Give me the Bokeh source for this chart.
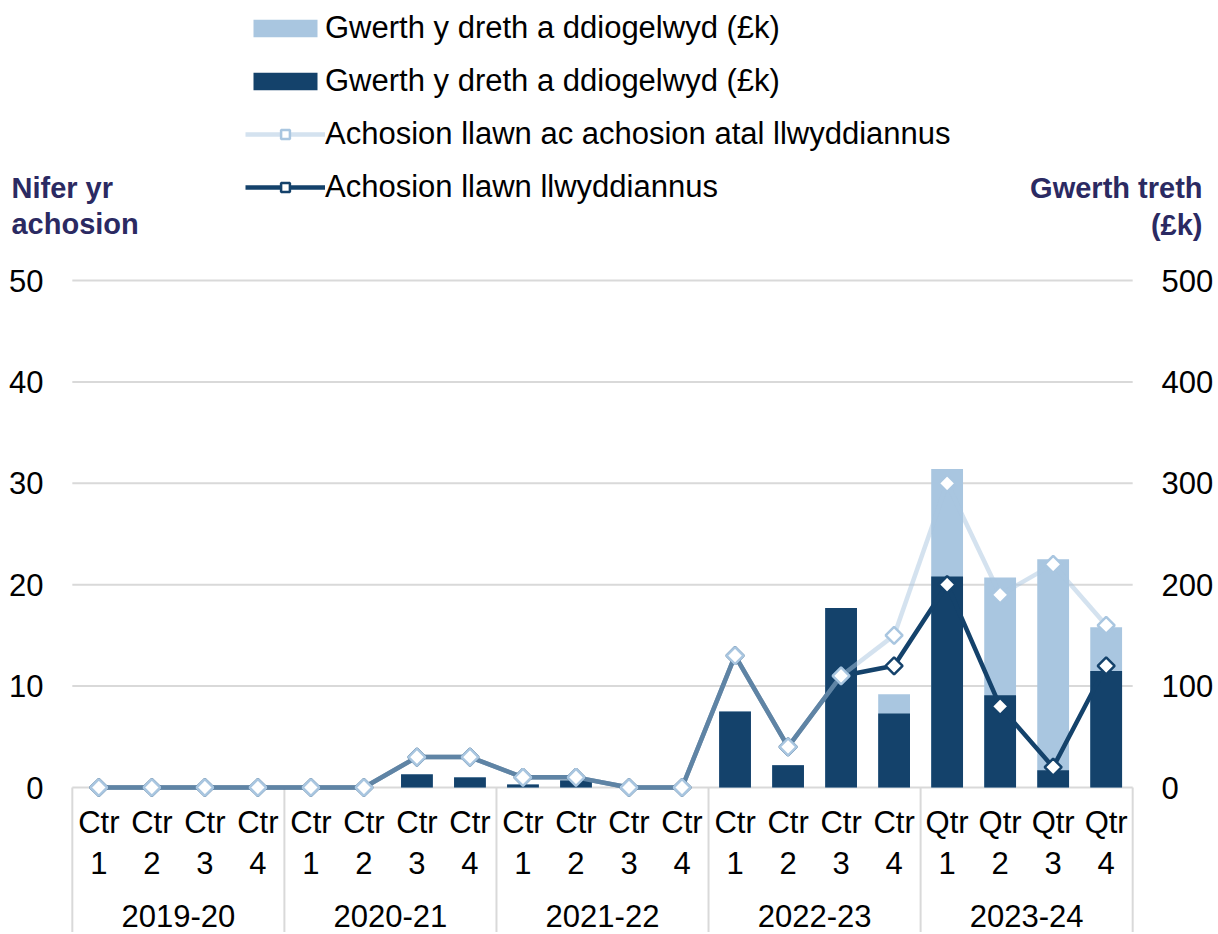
from bokeh.plotting import figure
from bokeh.models import (FactorRange, Range1d, LinearAxis, FixedTicker, Legend,
                          LegendItem, Label, Grid, ColumnDataSource)
from bokeh.core.properties import value
from bokeh.embed import file_html
from bokeh.resources import INLINE
import numpy as np

# ---------------- data ----------------
years = ["2019-20", "2020-21", "2021-22", "2022-23", "2023-24"]
quarter_words = ["Ctr", "Ctr", "Ctr", "Ctr", "Qtr"]
quarter_nums = ["1", "2", "3", "4"]

# tax value protected (£k), right axis
value_full = [0, 0, 0, 0, 0, 0, 13, 10, 3, 7, 0, 0, 75, 22, 177, 73, 208, 91, 17, 115]
value_total = [0, 0, 0, 0, 0, 0, 13, 10, 3, 7, 0, 0, 75, 22, 177, 92, 314, 207, 225, 158]

# number of cases, left axis
cases_total = [0, 0, 0, 0, 0, 0, 3, 3, 1, 1, 0, 0, 13, 4, 11, 15, 30, 19, 22, 16]
cases_full = [0, 0, 0, 0, 0, 0, 3, 3, 1, 1, 0, 0, 13, 4, 11, 12, 20, 8, 2, 12]

left_ticks = [0, 10, 20, 30, 40, 50]
right_ticks = [0, 100, 200, 300, 400, 500]

label_bar = "Gwerth y dreth a ddiogelwyd (£k)"
label_total = "Achosion llawn ac achosion atal llwyddiannus"
label_full = "Achosion llawn llwyddiannus"
title_left = ["Nifer yr", "achosion"]
title_right = ["Gwerth treth", "(£k)"]

# ---------------- style ----------------
DARK = "#14426b"
LIGHT = "#a9c6e0"
GRID = "#d9d9d9"
TITLE = "#2b2a62"
FONT = "Liberation Sans"
FS = "31px"
TFS = "29px"

# ---------------- layout (page pixels) ----------------
W, H = 1216, 932
BORDER_R = 9
frame_w = W - BORDER_R
cat_left, cat_right = 72, 1135
n_cat = len(years) * len(quarter_nums)
u = (cat_right - cat_left) / n_cat            # px per category
side_pad = (frame_w / u - n_cat) / 2.0         # padding units on each side
x_start = -side_pad

zero_y = 787
top_y = 280
ppu = (zero_y - top_y) / 50.0                  # px per case
y_min = -(H - zero_y) / ppu
y_max = 50 + top_y / ppu


def xs(px):
    return px / u + x_start


def ys(py):
    return (zero_y - py) / ppu


factors = [(y, f"{w} {n}") for y, w in zip(years, quarter_words) for n in quarter_nums]
qwords = [f[1].split(" ")[0] for f in factors]
qnums = [f[1].split(" ")[1] for f in factors]

xr = FactorRange(*factors, factor_padding=0, group_padding=0, subgroup_padding=0,
                 range_padding=side_pad, range_padding_units="absolute")

p = figure(width=W, height=H, output_backend="svg", toolbar_location=None,
           x_range=xr, y_range=Range1d(y_min, y_max),
           x_axis_location=None, y_axis_location=None,
           min_border=0, min_border_left=0, min_border_right=BORDER_R,
           min_border_top=0, min_border_bottom=0)
p.extra_y_ranges = {"value": Range1d(y_min * 10, y_max * 10)}
p.outline_line_color = None
for r in list(p.center):
    if isinstance(r, Grid):
        r.visible = False

# axes: labels pulled in so they sit beside the category span
axis_kw = dict(axis_line_color=None, major_tick_line_color=None, minor_tick_line_color=None,
               major_tick_in=0, major_tick_out=0,
               major_label_text_font_size=FS, major_label_text_font=FONT,
               major_label_text_color="black")
la = LinearAxis(ticker=FixedTicker(ticks=left_ticks), major_label_standoff=-43, **axis_kw)
ra = LinearAxis(y_range_name="value", ticker=FixedTicker(ticks=right_ticks),
                major_label_standoff=-(frame_w - 1164), **axis_kw)
p.add_layout(la, "left")
p.add_layout(ra, "right")

# horizontal grid lines over the category span (0 line = category axis line)
p.segment(x0=[0] * len(left_ticks), x1=[n_cat] * len(left_ticks),
          y0=left_ticks, y1=left_ticks, line_color=GRID, line_width=2)

# group separators below the axis
n_per = len(quarter_nums)
sep_x = [i * n_per for i in range(len(years) + 1)]
p.segment(x0=sep_x, x1=sep_x, y0=[0] * len(sep_x), y1=[y_min] * len(sep_x),
          line_color=GRID, line_width=2)

src = ColumnDataSource(dict(x=factors, vf=value_full, vt=value_total,
                            ct=cases_total, cf=cases_full))

r_total = p.vbar(x="x", top="vt", width=0.6, source=src, y_range_name="value",
                 fill_color=LIGHT, line_color=None)
r_full = p.vbar(x="x", top="vf", width=0.6, source=src, y_range_name="value",
                fill_color=DARK, line_color=None)

l_full = p.line(x="x", y="cf", source=src, line_color=DARK, line_width=4.5)
l_total = p.line(x="x", y="ct", source=src, line_color=LIGHT, line_alpha=0.5, line_width=4.5)
m_full = p.scatter(x="x", y="cf", source=src, marker="square", angle=np.pi / 4, size=12,
                   fill_color="white", line_color=DARK, line_width=2.5)
m_total = p.scatter(x="x", y="ct", source=src, marker="square", angle=np.pi / 4, size=12,
                    fill_color="white", line_color=LIGHT, line_width=2.5)

txt_kw = dict(text_align="center", text_baseline="middle", text_font=value(FONT),
              text_font_size=FS, text_color="black")
p.text(x=factors, y=[ys(822)] * len(factors), text=qwords, **txt_kw)
p.text(x=factors, y=[ys(862)] * len(factors), text=qnums, **txt_kw)
p.text(x=years, y=[ys(915)] * len(years), text=years, **txt_kw)

# axis titles
for txt, py in zip(title_left, [187, 223]):
    p.add_layout(Label(x=xs(11), y=ys(py), text=txt, text_align="left",
                       text_baseline="middle", text_font=FONT, text_font_size=TFS,
                       text_font_style="bold", text_color=TITLE))
for txt, py in zip(title_right, [187, 224]):
    p.add_layout(Label(x=xs(frame_w - 2), y=ys(py), text=txt, text_align="right",
                       text_baseline="middle", text_font=FONT, text_font_size=TFS,
                       text_font_style="bold", text_color=TITLE))

legend = Legend(items=[LegendItem(label=label_bar, renderers=[r_total]),
                       LegendItem(label=label_bar, renderers=[r_full]),
                       LegendItem(label=label_total, renderers=[l_total, m_total]),
                       LegendItem(label=label_full, renderers=[l_full, m_full])],
                location=(245, H - 205), orientation="vertical",
                glyph_width=80, glyph_height=22, label_height=34, label_standoff=0,
                spacing=17, padding=0, margin=0, border_line_color=None,
                background_fill_alpha=0, label_text_font=FONT, label_text_font_size=FS,
                label_text_color="black")
p.add_layout(legend)

open("out.html", "w").write(file_html(p, INLINE))
